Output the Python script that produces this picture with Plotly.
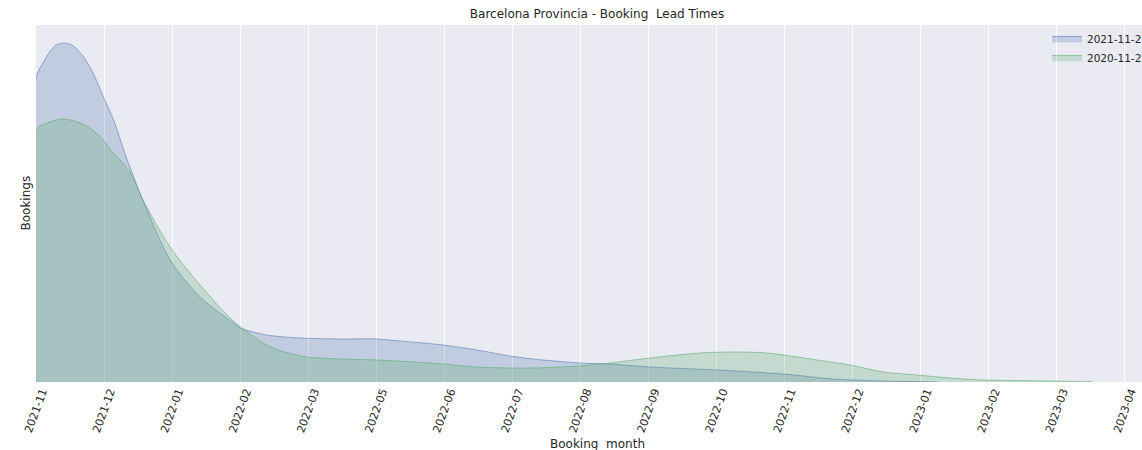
import plotly.graph_objects as go

# Tick labels (month axis, one tick per unit)
tick_pos = list(range(17))
tick_labels = ["2021-11", "2021-12", "2022-01", "2022-02", "2022-03", "2022-05",
               "2022-06", "2022-07", "2022-08", "2022-09", "2022-10", "2022-11",
               "2022-12", "2023-01", "2023-02", "2023-03", "2023-04"]

# Series 1: 2021-11-2x  (x in month units from 2021-11, y = density, arbitrary units)
month_2021 = [0.0, 0.11, 0.21, 0.30, 0.42, 0.55, 0.70, 0.84, 0.99, 1.14, 1.33, 1.57,
              1.97, 2.41, 2.90, 3.0, 3.39, 3.88, 4.47, 5.01, 5.35, 5.98, 6.48, 6.96,
              7.30, 7.99, 8.43, 9.02, 10.01, 10.98, 11.71, 12.45, 13.24]
dens_2021 = [304, 320, 331, 337, 339, 336, 325, 309, 285, 262, 224, 182,
             122, 85, 59, 54, 47, 44, 43, 43, 41, 37, 32, 26,
             23, 19, 18, 15, 12, 8, 3, 1, 0]

# Series 2: 2020-11-2x
month_2020 = [0.0, 0.16, 0.40, 0.65, 0.89, 1.10, 1.38, 1.57, 1.97, 2.41, 2.90,
              3.39, 3.60, 3.98, 4.47, 5.01, 5.98, 6.48, 6.96, 7.30, 7.99, 8.43,
              9.02, 9.76, 10.24, 10.74, 11.48, 11.96, 12.45, 12.94, 13.43,
              13.91, 14.90, 15.53]
dens_2020 = [252, 259, 263, 259, 249, 232, 210, 182, 135, 97, 61,
             37, 31, 25, 23, 22, 18, 15, 14, 14, 16, 19,
             24, 29, 30, 29, 22, 17, 10, 7, 4,
             2, 1, 0]

series = [
    ("2021-11-23", month_2021, dens_2021, "rgba(76,114,176,0.25)", "rgba(76,114,176,0.55)"),
    ("2020-11-23", month_2020, dens_2020, "rgba(85,168,104,0.25)", "rgba(85,168,104,0.55)"),
]

fig = go.Figure()
for name, xs, ys, fillc, linec in series:
    px = [xs[0]] + xs + [xs[0]]
    py = [0] + ys + [0]
    fig.add_trace(go.Scatter(
        x=px, y=py, name=name, mode="lines",
        line=dict(color=linec, width=1, shape="spline", smoothing=0.8),
        fill="toself", fillcolor=fillc, hoverinfo="skip",
    ))

ymax = max(max(dens_2021), max(dens_2020)) * 1.053
font_family = "DejaVu Sans"
text_color = "#262626"

W, H = 1142, 450
L, T, B = 36, 25, 68
plot_w = W - L
plot_h = H - T - B

fig.update_layout(
    width=W, height=H,
    # the original image crops the right edge of the figure (legend text runs off the page)
    margin=dict(l=L, r=0, t=T, b=B, autoexpand=False),
    paper_bgcolor="white", plot_bgcolor="#EAEAF2",
    font=dict(family=font_family, color=text_color, size=11),
    title=dict(text="Barcelona Provincia - Booking  Lead Times", x=(597 - L) / plot_w,
               xref="paper", xanchor="center", y=1 - 14 / H, yanchor="middle",
               font=dict(size=12, family=font_family, color=text_color)),
    showlegend=True,
    legend=dict(x=(1047 - L) / plot_w, y=1.003, xanchor="left", yanchor="top",
                bgcolor="rgba(0,0,0,0)", font=dict(size=10.5, family=font_family, color=text_color),
                tracegroupgap=0),
    xaxis=dict(range=[0, 16.25], tickmode="array", tickvals=tick_pos, ticktext=tick_labels,
               tickangle=-70, showgrid=True, gridcolor="white", gridwidth=1,
               zeroline=False, showline=False, ticks="",
               tickfont=dict(size=11, family=font_family, color=text_color),
               ticklabelshift=6),
    yaxis=dict(range=[0, ymax], showticklabels=False, showgrid=False, zeroline=False,
               showline=False, ticks=""),
    annotations=[
        dict(text="Booking  month", x=(597 - L) / plot_w, xref="paper",
             y=(T + plot_h - 444) / plot_h, yref="paper",
             xanchor="center", yanchor="middle", showarrow=False,
             font=dict(size=12, family=font_family, color=text_color)),
        dict(text="Bookings", x=(25 - L) / plot_w, xref="paper", y=0.5, yref="paper",
             xanchor="center", yanchor="middle", textangle=-90, showarrow=False,
             font=dict(size=12, family=font_family, color=text_color)),
    ],
)

# remove the default 8px page margin so the figure fills the window exactly
fig.write_html(
    "out.html",
    config={"displayModeBar": False},
    post_script="document.body.style.margin='0';"
                "document.documentElement.style.overflow='hidden';",
)
